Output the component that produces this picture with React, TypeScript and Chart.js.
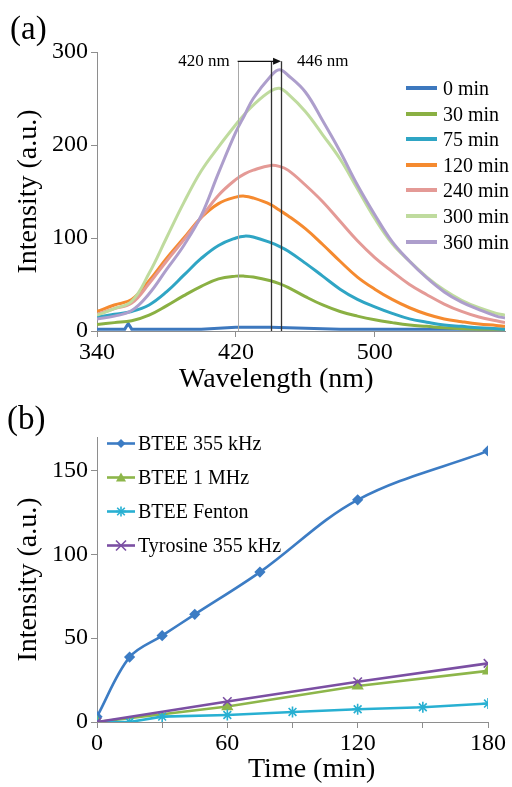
import React, { useEffect, useRef } from 'react';
import { Chart, registerables } from 'chart.js';

Chart.register(...registerables);

const FONT = "'Liberation Serif', 'Times New Roman', serif";
Chart.defaults.font.family = FONT;
Chart.defaults.color = '#000';
const AXIS = '#8E8E8E';

// ---------- Panel (a): emission spectra ----------
const wavelengths = [340, 350, 360, 370, 380, 390, 400, 410, 420, 425, 430, 440, 445, 450, 460, 470, 480, 490, 500, 510, 520, 530, 540, 550, 560, 570, 575];
const spectrum30 = [7, 9, 11, 17, 27, 38, 48, 56, 59, 59, 58, 54, 51, 47, 37, 28, 21, 16, 12, 9, 6.5, 5, 3.5, 2.5, 2, 2, 2];
const spectrum75 = [15, 18, 21, 28, 42, 60, 78, 92, 100, 102, 101, 95, 91, 86, 73, 59, 45, 34, 26, 19, 13, 9.5, 6.5, 5, 3.5, 2.5, 2];
const spectrum120 = [21, 28, 34, 54, 78, 100, 122, 137, 144, 145, 143, 136, 130, 124, 110, 93, 75, 58, 45, 34, 25, 18, 13, 10, 7.5, 6, 5];
const spectrum240 = [18, 24, 30, 51, 75, 98, 122, 146, 163, 169, 173, 178, 177, 173, 157, 139, 118, 97, 79, 64, 50, 39, 29, 21, 15, 11, 9];
const spectrum300 = [17, 24, 32, 62, 100, 138, 172, 198, 222, 233, 243, 258, 261, 255, 236, 211, 185, 153, 121, 94, 75, 58, 44, 33, 25, 19, 17];
const spectrum360 = [13, 16, 22, 40, 66, 92, 124, 170, 214, 232, 250, 274, 281, 275, 257, 226, 193, 157, 125, 96, 75, 57, 42, 31, 23, 16, 14];
const spectrum0Nm = [340, 350, 356, 358, 360, 370, 400, 420, 440, 460, 480, 520, 575];
const spectrum0 = [2, 2, 2, 8, 2, 2, 2, 4, 4, 3, 2, 2, 2];

const spectraLabels = ['0 min', '30 min', '75 min', '120 min', '240 min', '300 min', '360 min'];
const spectraColors = ['#3D78BE', '#8AB043', '#2FA5C4', '#F58A2F', '#E49A96', '#BFDB9E', '#AD9ECC'];
const wavelengthTicks = [340, 420, 500];
const intensityTicksA = [0, 100, 200, 300];
const markerNm = [421, 440, 446];
const markerTop = 290;
const markerLabels = ['420 nm', '446 nm'];

// ---------- Panel (b): intensity vs time ----------
const time355 = [0, 15, 30, 45, 75, 120, 180];
const btee355 = [3.2, 38.7, 51.5, 64.2, 89.4, 132.5, 161.7];
const time1M = [0, 60, 120, 180];
const btee1M = [0, 9.2, 21.5, 30.5];
const timeFenton = [0, 15, 30, 60, 90, 120, 150, 180];
const bteeFenton = [0, 0, 3.2, 4.2, 6, 7.6, 8.8, 11];
const timeTyr = [0, 60, 120, 180];
const tyr355 = [0, 12.2, 24, 35];
const timeSeriesLabels = ['BTEE 355 kHz', 'BTEE 1 MHz', 'BTEE Fenton', 'Tyrosine 355 kHz'];
const timeSeriesColors = ['#3C7CC4', '#8DB64A', '#28B0D2', '#7B4FA3'];
const timeTicks = [0, 30, 60, 90, 120, 150, 180];
const intensityTicksB = [0, 50, 100, 150];

function makeAxis(o: any) {
  return {
    type: 'linear',
    min: o.min,
    max: o.max,
    afterBuildTicks: (s: any) => {
      s.ticks = o.ticks.map((v: number) => ({ value: v }));
    },
    afterFit: (s: any) => {
      if (o.horizontal) s.height = o.size;
      else s.width = o.size;
    },
    border: { display: true, color: AXIS, width: 1 },
    grid: { display: true, drawOnChartArea: false, drawTicks: true, tickLength: 6, tickColor: AXIS, color: AXIS },
    ticks: {
      color: '#000',
      font: { family: FONT, size: 24 },
      padding: o.horizontal ? 1 : 3,
      maxRotation: 0,
      autoSkip: false,
      callback: o.callback || ((v: any) => String(v)),
    },
    title: o.title
      ? { display: true, text: o.title, color: '#000', font: { family: FONT, size: 28 }, padding: { top: 12, bottom: 0 } }
      : { display: false },
  };
}

const markerPlugin = {
  id: 'wavelengthMarkers',
  afterDatasetsDraw(chart: any) {
    const { ctx, scales } = chart;
    const xs = scales.x;
    const ys = scales.y;
    const top = ys.getPixelForValue(markerTop);
    const bottom = ys.getPixelForValue(0);
    ctx.save();
    markerNm.forEach((nm, i) => {
      const px = Math.round(xs.getPixelForValue(nm)) + 0.5;
      ctx.beginPath();
      ctx.strokeStyle = i === 0 ? '#A8A8A8' : '#333';
      ctx.lineWidth = i === 0 ? 1 : 1.3;
      ctx.moveTo(px, top);
      ctx.lineTo(px, bottom);
      ctx.stroke();
    });
    const x0 = xs.getPixelForValue(markerNm[0]);
    const x1 = xs.getPixelForValue(markerNm[2]);
    ctx.beginPath();
    ctx.strokeStyle = '#111';
    ctx.lineWidth = 1.3;
    ctx.moveTo(x0, top);
    ctx.lineTo(x1 - 6, top);
    ctx.stroke();
    ctx.beginPath();
    ctx.fillStyle = '#111';
    ctx.moveTo(x1, top);
    ctx.lineTo(x1 - 8, top - 3.5);
    ctx.lineTo(x1 - 8, top + 3.5);
    ctx.closePath();
    ctx.fill();
    ctx.font = '17px ' + FONT;
    ctx.fillStyle = '#000';
    ctx.textBaseline = 'middle';
    ctx.textAlign = 'right';
    ctx.fillText(markerLabels[0], x0 - 8, top);
    ctx.textAlign = 'left';
    ctx.fillText(markerLabels[1], x1 + 16, top);
    ctx.restore();
  },
};

function configA(): any {
  const series = [spectrum30, spectrum75, spectrum120, spectrum240, spectrum300, spectrum360];
  const datasets: any[] = [
    {
      label: spectraLabels[0],
      data: spectrum0Nm.map((x, j) => ({ x, y: spectrum0[j] })),
      borderColor: spectraColors[0],
      borderWidth: 3,
      pointRadius: 0,
      tension: 0,
      fill: false,
      order: 7,
    },
  ];
  series.forEach((vals, i) => {
    datasets.push({
      label: spectraLabels[i + 1],
      data: wavelengths.map((x, j) => ({ x, y: vals[j] })),
      borderColor: spectraColors[i + 1],
      borderWidth: 3,
      pointRadius: 0,
      tension: 0.4,
      fill: false,
      order: 6 - i,
    });
  });
  return {
    type: 'line',
    data: { datasets },
    plugins: [markerPlugin],
    options: {
      animation: false,
      responsive: false,
      events: [],
      layout: { padding: { top: 52, right: 7, bottom: 0, left: 0 } },
      plugins: { legend: { display: false }, tooltip: { enabled: false } },
      scales: {
        x: makeAxis({ min: 340, max: 575, ticks: wavelengthTicks, horizontal: true, size: 64 }),
        y: makeAxis({ min: 0, max: 300, ticks: intensityTicksA, horizontal: false, size: 97, title: 'Intensity (a.u.)' }),
      },
    },
  };
}

function configB(): any {
  const xsList = [time355, time1M, timeFenton, timeTyr];
  const ysList = [btee355, btee1M, bteeFenton, tyr355];
  const styles = [
    { pointStyle: 'rectRot', radius: 4.5, tension: 0.35 },
    { pointStyle: 'triangle', radius: 5.5, tension: 0 },
    { pointStyle: 'star', radius: 5.5, tension: 0 },
    { pointStyle: 'crossRot', radius: 6, tension: 0 },
  ];
  const datasets = xsList.map((xs, i) => ({
    label: timeSeriesLabels[i],
    data: xs.map((x, j) => ({ x, y: ysList[i][j] })),
    borderColor: timeSeriesColors[i],
    backgroundColor: timeSeriesColors[i],
    borderWidth: 2.6,
    pointStyle: styles[i].pointStyle,
    pointRadius: styles[i].radius,
    pointBackgroundColor: timeSeriesColors[i],
    pointBorderColor: timeSeriesColors[i],
    pointBorderWidth: 1.6,
    tension: styles[i].tension,
    fill: false,
    order: 4 - i,
  }));
  return {
    type: 'line',
    data: { datasets },
    options: {
      animation: false,
      responsive: false,
      events: [],
      layout: { padding: { top: 42, right: 24, bottom: 0, left: 0 } },
      plugins: { legend: { display: false }, tooltip: { enabled: false } },
      scales: {
        x: makeAxis({
          min: 0,
          max: 180,
          ticks: timeTicks,
          horizontal: true,
          size: 65,
          callback: (v: any) => (Number(v) % 60 === 0 ? String(v) : ''),
        }),
        y: makeAxis({ min: 0, max: 170, ticks: intensityTicksB, horizontal: false, size: 97, title: 'Intensity (a.u.)' }),
      },
    },
  };
}

function Marker({ kind, color }: { kind: number; color: string }) {
  const c = 14;
  if (kind === 0) return <polygon points={`${c},5 ${c + 4.5},9.5 ${c},14 ${c - 4.5},9.5`} fill={color} />;
  if (kind === 1) return <polygon points={`${c},4.5 ${c + 5},13.5 ${c - 5},13.5`} fill={color} />;
  if (kind === 2)
    return (
      <g stroke={color} strokeWidth={1.6}>
        <line x1={c - 5} y1={9.5} x2={c + 5} y2={9.5} />
        <line x1={c} y1={4.5} x2={c} y2={14.5} />
        <line x1={c - 3.8} y1={5.7} x2={c + 3.8} y2={13.3} />
        <line x1={c + 3.8} y1={5.7} x2={c - 3.8} y2={13.3} />
      </g>
    );
  return (
    <g stroke={color} strokeWidth={1.6}>
      <line x1={c - 5} y1={4.5} x2={c + 5} y2={14.5} />
      <line x1={c + 5} y1={4.5} x2={c - 5} y2={14.5} />
    </g>
  );
}

export default function App() {
  const refA = useRef<HTMLCanvasElement>(null);
  const refB = useRef<HTMLCanvasElement>(null);

  useEffect(() => {
    const chartA = new Chart(refA.current as HTMLCanvasElement, configA());
    const chartB = new Chart(refB.current as HTMLCanvasElement, configB());
    let alive = true;
    const fonts: any = (document as any).fonts;
    if (fonts && fonts.load) {
      Promise.all([fonts.load("24px 'Liberation Serif'"), fonts.load("28px 'Liberation Serif'")])
        .then(() => {
          if (alive) {
            chartA.update();
            chartB.update();
          }
        })
        .catch(() => {});
    }
    return () => {
      alive = false;
      chartA.destroy();
      chartB.destroy();
    };
  }, []);

  const textBase: React.CSSProperties = { position: 'absolute', whiteSpace: 'nowrap', color: '#000', fontFamily: FONT };

  return (
    <div style={{ position: 'absolute', left: 0, top: 0, width: 512, height: 787, background: '#fff', overflow: 'hidden', fontFamily: FONT }}>
      <canvas ref={refA} width={512} height={395} style={{ position: 'absolute', left: 0, top: 0, width: 512, height: 395 }} />
      <canvas ref={refB} width={512} height={392} style={{ position: 'absolute', left: 0, top: 395, width: 512, height: 392 }} />

      <div style={{ ...textBase, left: 10, top: 12, fontSize: 33, lineHeight: '33px' }}>(a)</div>
      <div style={{ ...textBase, left: 7, top: 402, fontSize: 33, lineHeight: '33px' }}>(b)</div>

      <div style={{ ...textBase, left: 179, top: 364, fontSize: 28, lineHeight: '28px' }}>Wavelength (nm)</div>
      <div style={{ ...textBase, left: 248, top: 754, fontSize: 28, lineHeight: '28px' }}>Time (min)</div>

      {spectraLabels.map((lab, i) => (
        <div
          key={lab}
          style={{ position: 'absolute', left: 406, top: 88 + i * 25.6 - 12, height: 24, display: 'flex', alignItems: 'center' }}
        >
          <div style={{ width: 31, height: 4, background: spectraColors[i] }} />
          <span style={{ marginLeft: 6, fontSize: 20, lineHeight: '24px', fontFamily: FONT, whiteSpace: 'nowrap', color: '#000' }}>
            {lab}
          </span>
        </div>
      ))}

      {timeSeriesLabels.map((lab, i) => (
        <div
          key={lab}
          style={{ position: 'absolute', left: 107, top: 443 + i * 34 - 10, height: 20, display: 'flex', alignItems: 'center' }}
        >
          <svg width={28} height={19} style={{ display: 'block' }}>
            <line x1={0} y1={9.5} x2={28} y2={9.5} stroke={timeSeriesColors[i]} strokeWidth={2.6} />
            <Marker kind={i} color={timeSeriesColors[i]} />
          </svg>
          <span style={{ marginLeft: 3, fontSize: 20, lineHeight: '20px', fontFamily: FONT, whiteSpace: 'nowrap', color: '#000' }}>
            {lab}
          </span>
        </div>
      ))}
    </div>
  );
}
